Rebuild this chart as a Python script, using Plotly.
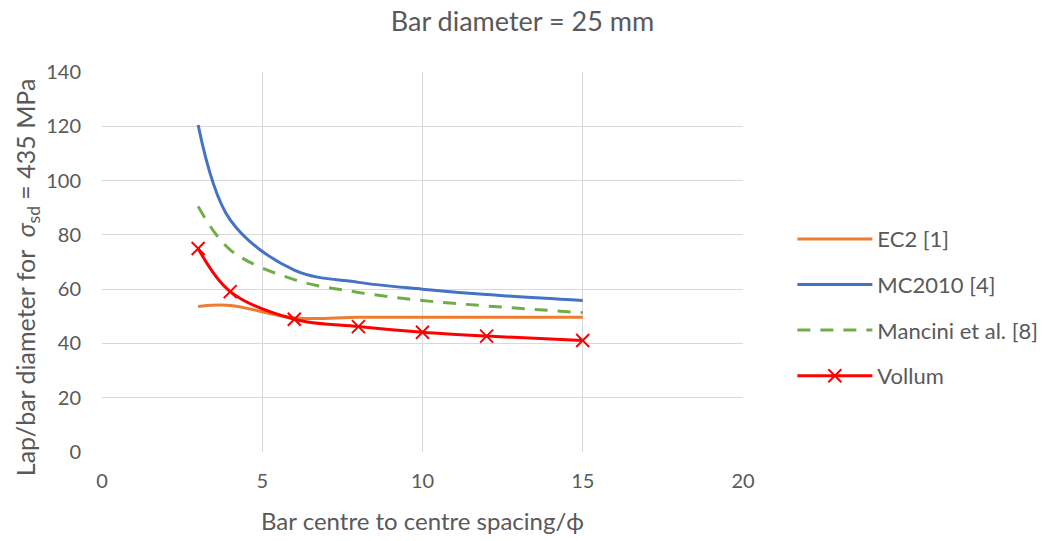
import plotly.graph_objects as go

x_vals = [3, 4, 6, 8, 10, 12, 15]
ec2 = [53.6, 54.0, 49.4, 49.6, 49.6, 49.6, 49.6]
mc2010 = [120.5, 85.5, 67.0, 62.5, 60.0, 58.0, 55.8]
mancini = [90.5, 74.5, 63.5, 58.8, 55.8, 53.8, 51.3]
vollum = [75.0, 59.1, 48.9, 46.2, 44.1, 42.7, 41.1]

FONT = "Lato"
GREY = "#595959"

fig = go.Figure()
fig.add_trace(go.Scatter(x=x_vals, y=ec2, name="EC2 [1]", mode="lines",
                         line=dict(color="#ED7D31", width=3, shape="spline"),
                         legendgroup="a"))
fig.add_trace(go.Scatter(x=x_vals, y=mc2010, name="MC2010 [4]", mode="lines",
                         line=dict(color="#4472C4", width=3, shape="spline"),
                         legendgroup="b"))
fig.add_trace(go.Scatter(x=x_vals, y=mancini, name="Mancini et al. [8]", mode="lines",
                         line=dict(color="#70AD47", width=3, shape="spline", dash="13px,10px"),
                         legendgroup="c"))
fig.add_trace(go.Scatter(x=x_vals, y=vollum, name="Vollum", mode="lines+markers",
                         line=dict(color="#FF0000", width=3, shape="spline"),
                         marker=dict(symbol="x-thin", size=13, line=dict(color="#FF0000", width=2)),
                         legendgroup="d"))

fig.add_annotation(text="Lap/bar diameter for  <i>σ</i><sub>sd</sub> = 435 MPa",
                   xref="paper", yref="paper", x=-0.117, y=0.46,
                   xanchor="center", yanchor="middle", textangle=-90, showarrow=False,
                   font=dict(family=FONT, size=25, color=GREY))

fig.update_layout(
    width=1045, height=541,
    margin=dict(l=102, r=302, t=72, b=89, autoexpand=False),
    paper_bgcolor="white", plot_bgcolor="white",
    font=dict(family=FONT, color=GREY, size=20),
    title=dict(text="Bar diameter = 25 mm", x=0.5, xref="container", y=0.96, yanchor="middle",
               font=dict(family=FONT, size=27, color=GREY)),
    showlegend=True,
    legend=dict(x=1.077, xanchor="left", y=0.38, yanchor="middle",
                traceorder="grouped", tracegroupgap=14, itemwidth=75,
                font=dict(family=FONT, size=22, color=GREY), bgcolor="rgba(0,0,0,0)"),
    xaxis=dict(range=[0, 20], tickvals=[0, 5, 10, 15, 20], showgrid=True, gridcolor="#D9D9D9",
               gridwidth=1, zeroline=False, showline=False, ticks="", ticklabelstandoff=15,
               tickfont=dict(family=FONT, size=20, color=GREY),
               title=dict(text="Bar centre to centre spacing/ϕ", standoff=22,
                          font=dict(family=FONT, size=24, color=GREY))),
    yaxis=dict(range=[0, 140], tickvals=[0, 20, 40, 60, 80, 100, 120, 140], showgrid=True,
               gridcolor="#D9D9D9", gridwidth=1, zeroline=False, showline=False, ticks="",
               ticklabelstandoff=20,
               tickfont=dict(family=FONT, size=20, color=GREY)),
)

fig.write_html("out.html")
